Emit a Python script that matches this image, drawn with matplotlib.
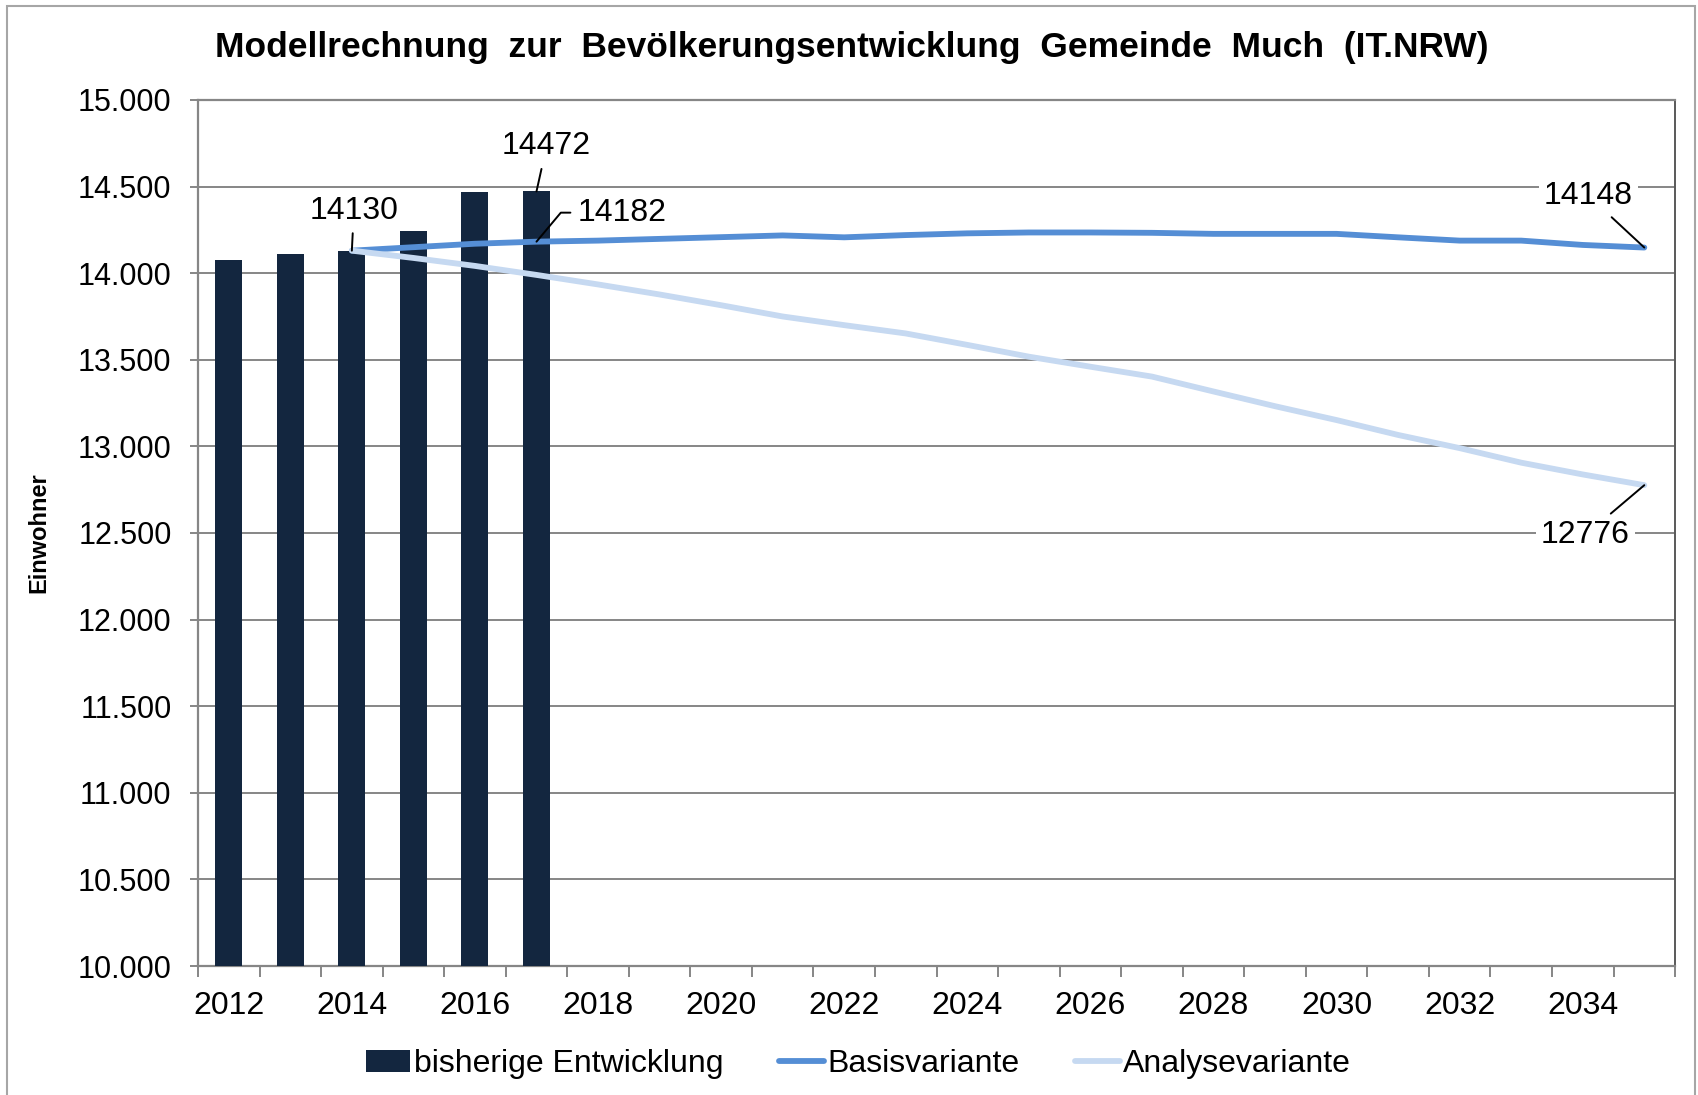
import numpy as np
import matplotlib.pyplot as plt
from matplotlib.patches import Rectangle
from matplotlib.ticker import FuncFormatter

plt.rcParams["font.family"] = ["Liberation Sans", "DejaVu Sans"]

years = list(range(2012, 2036))

# bisherige Entwicklung (2012-2017)
bar_years = [2012, 2013, 2014, 2015, 2016, 2017]
bar_vals = [14078, 14110, 14130, 14245, 14466, 14472]

# Modellrechnung IT.NRW (2014-2035)
line_years = list(range(2014, 2036))
basis = [14130, 14150, 14170, 14182, 14188, 14198, 14208, 14218, 14207, 14220,
         14230, 14235, 14235, 14233, 14227, 14227, 14227, 14207, 14188, 14188,
         14163, 14148]
analyse = [14130, 14088, 14042, 13990, 13935, 13877, 13815, 13750, 13700, 13652,
           13586, 13518, 13460, 13403, 13317, 13232, 13152, 13066, 12990, 12906,
           12838, 12776]

bar_col = "#13263F"
basis_col = "#558ED5"
analyse_col = "#C6D9F1"
grid_col = "#868686"

fig, ax = plt.subplots(figsize=(16.98, 10.95), dpi=100)
fig.subplots_adjust(left=0.1166, right=0.9865, top=0.9087, bottom=0.1178)

xb = [years.index(y) for y in bar_years]
xl = [years.index(y) for y in line_years]

h_bar = ax.bar(xb, np.array(bar_vals) - 10000, bottom=10000, width=0.44, color=bar_col,
               label="bisherige Entwicklung", zorder=3)
h_basis, = ax.plot(xl, basis, color=basis_col, lw=4.2, label="Basisvariante", zorder=4,
                   solid_capstyle="round")
h_analyse, = ax.plot(xl, analyse, color=analyse_col, lw=4.2, label="Analysevariante",
                     zorder=4, solid_capstyle="round")

ax.set_xlim(-0.5, len(years) - 0.5)
ax.set_ylim(10000, 15000)
ax.set_yticks(np.arange(10000, 15001, 500))
ax.yaxis.set_major_formatter(FuncFormatter(lambda v, p: "{:,.0f}".format(v).replace(",", ".")))
ax.tick_params(axis="y", labelsize=22, length=6, width=1.4, color=grid_col, pad=13)
ax.grid(axis="y", color=grid_col, lw=1.4, zorder=0)

# category boundaries as tick marks, labels every second year
ax.set_xticks(np.arange(-0.5, len(years), 1.0))
ax.set_xticklabels([])
ax.set_xticks(np.arange(0, len(years), 2), minor=True)
ax.set_xticklabels([str(y) for y in years[::2]], minor=True)
ax.tick_params(axis="x", which="major", length=8, width=1.4, color=grid_col)
ax.tick_params(axis="x", which="minor", length=0, labelsize=23, pad=18)

for s in ["left", "bottom", "top"]:
    ax.spines[s].set_color(grid_col)
    ax.spines[s].set_linewidth(1.6)
ax.spines["right"].set_color("#595959")
ax.spines["right"].set_linewidth(1.4)

ax.set_ylabel("Einwohner", fontsize=17, fontweight="bold")
ax.yaxis.set_label_coords(-0.1, 0.5)
fig.text(852 / 1698, 1 - 48 / 1095,
         "Modellrechnung  zur  Bevölkerungsentwicklung  Gemeinde  Much  (IT.NRW)",
         fontsize=25.5, fontweight="bold", ha="center", va="center")

# data labels with leader lines
lbl = dict(fontsize=23, ha="center", va="center", textcoords="offset pixels",
           bbox=dict(boxstyle="square,pad=0.15", fc="white", ec="none"), zorder=6)
arr = dict(arrowstyle="-", color="black", lw=1.4, shrinkA=2, shrinkB=0)
ax.annotate("14130", xy=(xl[0], basis[0]), xytext=(2, 40), arrowprops=arr, **lbl)
ax.annotate("14472", xy=(xb[-1], bar_vals[-1]), xytext=(10, 45), arrowprops=arr, **lbl)
ax.annotate("14182", xy=(xl[3], basis[3]), xytext=(86, 29),
            arrowprops=dict(arr, connectionstyle="angle,angleA=0,angleB=50,rad=0"), **lbl)
ax.annotate("14148", xy=(xl[-1], basis[-1]), xytext=(-56, 52), arrowprops=arr, **lbl)
ax.annotate("12776", xy=(xl[-1], analyse[-1]), xytext=(-59, -50), arrowprops=arr, **lbl)

ax.legend(handles=[h_bar, h_basis, h_analyse], loc="upper center",
          bbox_to_anchor=(0.447, -0.063), ncol=3, frameon=False,
          fontsize=23, handlelength=1.4, handletextpad=0.1, columnspacing=1.75)

# outer chart frame
fig.add_artist(Rectangle((7 / 1698, -0.05), 1688 / 1698, 1.05 - 6 / 1095,
                         transform=fig.transFigure, fill=False, ec="#A6A6A6", lw=1.5))

fig.savefig("out.png", dpi=100)
plt.close(fig)
